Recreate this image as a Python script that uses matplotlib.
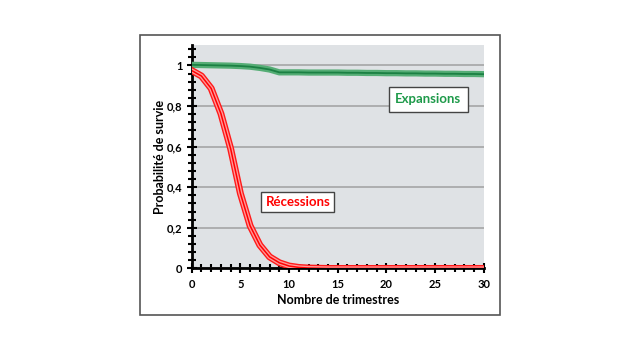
import numpy as np
import matplotlib
matplotlib.use("Agg")
import matplotlib.pyplot as plt
from matplotlib.patches import Rectangle
from matplotlib.ticker import MultipleLocator, FuncFormatter

plt.rcParams["font.family"] = ["Lato", "DejaVu Sans"]

trimestres = np.arange(0, 31)
recessions = [0.975, 0.948, 0.887, 0.763, 0.59, 0.37, 0.21, 0.115, 0.057, 0.028,
              0.012, 0.005, 0.002, 0.001] + [0.0] * 17
expansions = [1.003, 1.002, 1.001, 1.0, 0.999, 0.997, 0.994, 0.988, 0.98, 0.966,
              0.966, 0.966, 0.965, 0.965, 0.965, 0.965, 0.964, 0.964, 0.963, 0.963,
              0.962, 0.962, 0.961, 0.961, 0.960, 0.960, 0.959, 0.959, 0.958, 0.958,
              0.957]

fig = plt.figure(figsize=(6.4, 3.5), dpi=100)
fig.patches.append(Rectangle((0.219, 0.1), 0.562, 0.8, transform=fig.transFigure,
                             fill=False, edgecolor="#555555", linewidth=1.2))

ax = fig.add_axes([0.2995, 0.233, 0.4565, 0.638])
ax.set_facecolor("#dfe2e5")
for s in ["top", "right"]:
    ax.spines[s].set_visible(False)
for s in ["left", "bottom"]:
    ax.spines[s].set_linewidth(2)
    ax.spines[s].set_color("black")

ax.set_xlim(0, 30)
ax.set_ylim(0, 1.1)
ax.xaxis.set_major_locator(MultipleLocator(5))
ax.xaxis.set_minor_locator(MultipleLocator(1))
ax.yaxis.set_major_locator(MultipleLocator(0.2))
ax.yaxis.set_minor_locator(MultipleLocator(0.04))
ax.yaxis.set_major_formatter(FuncFormatter(lambda v, p: f"{v:g}".replace(".", ",")))
ax.tick_params(which="both", direction="inout", width=1.5, color="black")
ax.tick_params(which="major", length=7, labelsize=8, pad=4)
ax.tick_params(axis="y", which="major", pad=3)
ax.tick_params(which="minor", length=6)
for lbl in ax.get_xticklabels() + ax.get_yticklabels():
    lbl.set_fontweight("bold")

ax.grid(axis="y", which="major", color="#a0a0a0", linewidth=1.1)
ax.set_axisbelow(True)

ax.plot(trimestres, expansions, color="#55ad75", linewidth=4.5, solid_joinstyle="round", zorder=3)
ax.plot(trimestres, expansions, color="#1b8043", linewidth=1.3, zorder=3)
ax.plot(trimestres, recessions, color="#ff1a1a", linewidth=5, solid_joinstyle="round", zorder=3)
ax.plot(trimestres, recessions, color="#ff9a9a", linewidth=3, zorder=3)
ax.plot(trimestres, recessions, color="#ff0000", linewidth=1.1, zorder=3)

ax.set_xlabel("Nombre de trimestres", fontsize=9, fontweight="bold", labelpad=3)
ax.set_ylabel("Probabilité de survie", fontsize=9, fontweight="bold", labelpad=1)

ax.text(24.3, 0.834, "Expansions", color="#1e9a4a", fontsize=9.5, fontweight="bold",
        ha="center", va="center",
        bbox=dict(boxstyle="square,pad=0.5", facecolor="white", edgecolor="#444444", linewidth=1))
ax.text(10.9, 0.328, "Récessions", color="#ff0000", fontsize=9.5, fontweight="bold",
        ha="center", va="center",
        bbox=dict(boxstyle="square,pad=0.32", facecolor="white", edgecolor="#444444", linewidth=1))

fig.savefig("out.png", dpi=100)
